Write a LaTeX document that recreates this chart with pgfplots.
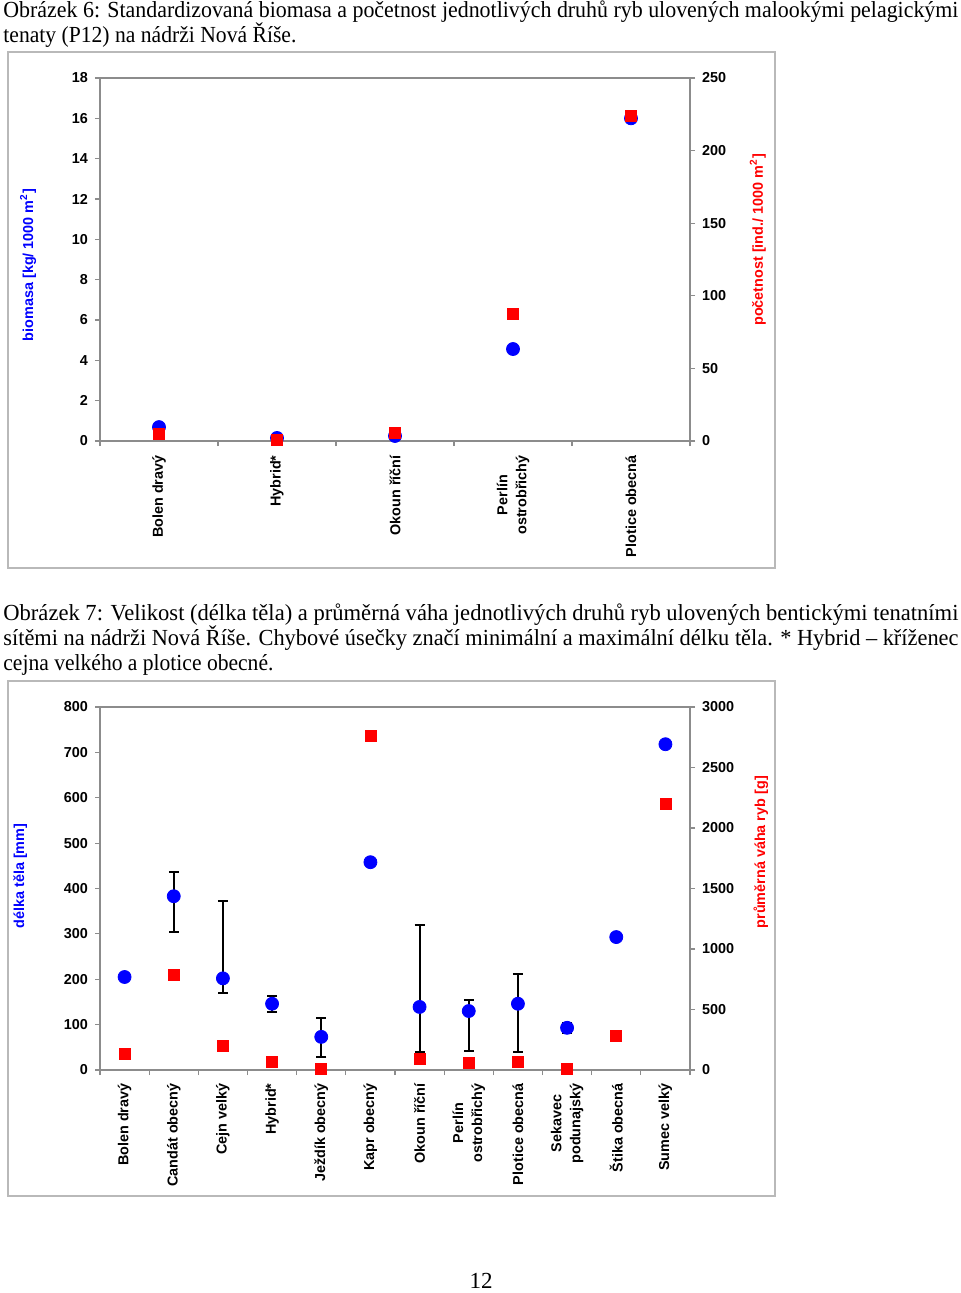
\documentclass[border=0pt]{standalone}
\usepackage{fontspec}
\setmainfont{Liberation Serif}
\newfontfamily\arial{Liberation Sans}
\usepackage{graphicx}
\usepackage{pgfplots}
\usepackage{pgfplotstable}
\pgfplotsset{compat=1.18}

\definecolor{framegray}{RGB}{185,185,185}
\definecolor{axgray}{RGB}{140,140,140}
\definecolor{mblue}{RGB}{0,0,255}
\definecolor{mred}{RGB}{255,0,0}

\newcommand{\lab}{\arial\bfseries\fontsize{7.2}{9.5}\selectfont}
\newcommand{\captxt}{\fontsize{11.5}{13}\selectfont}
\newcommand{\fitw}[2]{\resizebox{#1}{\height}{\captxt #2}}

% biomasa [kg/1000 m2], pocetnost [ind./1000 m2]
\pgfplotstableread{
x bio pocet
1 0.69 4.8
2 0.15 0.8
3 0.25 5.5
4 4.56 87.5
5 16.0 224
}\tabA

% delka tela [mm], prumerna vaha [g]
\pgfplotstableread{
x len w
1 205 132
2 383 788
3 202 198
4 146 69
5 73 11
6 458 2760
7 139 88
8 130 55
9 146 69
10 93 11
11 293 281
12 718 2198
}\tabB

% min/max delka tela
\pgfplotstableread{
x len ep em
2 383 53 79
3 202 171 32
4 146 17 18
5 73 42 44
7 139 180 99
8 130 24 88
9 146 66 106
10 93 11 11
}\tabE

\pgfplotsset{
  excel/.style={
    scale only axis, width=295pt, height=181.5pt, anchor=south west,
    tick align=outside, major tick length=2.5pt,
    axis line style={axgray, line width=0.6pt},
    tick style={axgray, line width=0.6pt},
    ticklabel style={font=\lab, text=black},
    /pgf/number format/assume math mode=true,
    /pgf/number format/1000 sep={},
    clip=false,
  },
}

\begin{document}
\begin{tikzpicture}
\begin{scope}[x=0.5pt,y=-0.5pt]
\useasboundingbox (0,0) rectangle (960,1293);
\fill[white] (0,0) rectangle (960,1293);
\node[anchor=base west, inner sep=0pt] at (3,18) {\fitw{477.5pt}{Obrázek 6: Standardizovaná biomasa a početnost jednotlivých druhů ryb ulovených malookými pelagickými}};
\node[anchor=base west, inner sep=0pt] at (3,43) {\fitw{146.5pt}{tenaty (P12) na nádrži Nová Říše.}};
\node[anchor=base west, inner sep=0pt] at (3,620) {\fitw{477.5pt}{Obrázek 7: Velikost (délka těla) a průměrná váha jednotlivých druhů ryb ulovených bentickými tenatními}};
\node[anchor=base west, inner sep=0pt] at (3,645) {\fitw{477.5pt}{sítěmi na nádrži Nová Říše. Chybové úsečky značí minimální a maximální délku těla. * Hybrid – kříženec}};
\node[anchor=base west, inner sep=0pt] at (3,670) {\fitw{135pt}{cejna velkého a plotice obecné.}};
\node[anchor=base, inner sep=0pt] at (481,1288) {\captxt 12};
\draw[framegray, line width=0.75pt] (8,52) rectangle (775,568);
\draw[framegray, line width=0.75pt] (8,681) rectangle (775,1196);
\end{scope}

% ---------- Obrazek 6 ----------
\begin{axis}[excel, at={(50pt,-220.5pt)},
  xmin=0.5, xmax=5.5, ymin=0, ymax=18, ytick={0,2,...,18},
  xtick={0.5,1.5,...,5.5}, xticklabels={},
  extra x ticks={1,2,3,4,5},
  extra x tick labels={Bolen dravý, Hybrid*, Okoun říční, {Perlín\\ostrobřichý}, Plotice obecná},
  extra x tick style={major tick length=0pt},
  xticklabel style={rotate=90, anchor=east, align=center, inner ysep=0pt, inner xsep=7pt},
  ytick pos=left, xtick pos=bottom,
  ylabel={biomasa  [kg/ 1000 m\textsuperscript{2}]},
  every axis y label/.style={at={(axis description cs:-0.122,0.485)}, rotate=90, anchor=center, font=\lab, text=mblue},
]
\addplot[only marks, mark=*, mark size=3.25pt, color=mblue] table[x=x, y=bio]{\tabA};
\end{axis}
\begin{axis}[excel, at={(50pt,-220.5pt)},
  xmin=0.5, xmax=5.5, ymin=0, ymax=250, ytick={0,50,...,250},
  axis y line*=right, axis x line=none,
  ylabel={početnost [ind./ 1000 m\textsuperscript{2}]},
  every axis y label/.style={at={(axis description cs:1.115,0.554)}, rotate=90, anchor=center, font=\lab, text=mred},
]
\addplot[only marks, mark=square*, mark size=2.75pt, color=mred] table[x=x, y=pocet]{\tabA};
\end{axis}

% ---------- Obrazek 7 ----------
\begin{axis}[excel, at={(50pt,-535pt)},
  xmin=0.5, xmax=12.5, ymin=0, ymax=800, ytick={0,100,...,800},
  xtick={0.5,1.5,...,12.5}, xticklabels={},
  extra x ticks={1,...,12},
  extra x tick labels={Bolen dravý, Candát obecný, Cejn velký, Hybrid*, Ježdík obecný, Kapr obecný, Okoun říční, {Perlín\\ostrobřichý}, Plotice obecná, {Sekavec\\podunajský}, Štika obecná, Sumec velký},
  extra x tick style={major tick length=0pt},
  xticklabel style={rotate=90, anchor=east, align=center, inner ysep=0pt, inner xsep=6.5pt},
  ytick pos=left, xtick pos=bottom,
  ylabel={délka těla [mm]},
  every axis y label/.style={at={(axis description cs:-0.135,0.534)}, rotate=90, anchor=center, font=\lab, text=mblue},
]
\addplot[only marks, mark=none, forget plot,
  error bars/.cd, y dir=both, y explicit,
  error bar style={draw=black, line width=1pt},
  error mark options={rotate=90, draw=black, line width=1pt, mark size=2.5pt}]
  table[x=x, y=len, y error plus=ep, y error minus=em]{\tabE};
\addplot[only marks, mark=*, mark size=3.25pt, color=mblue] table[x=x, y=len]{\tabB};
\end{axis}
\begin{axis}[excel, at={(50pt,-535pt)},
  xmin=0.5, xmax=12.5, ymin=0, ymax=3000, ytick={0,500,...,3000},
  axis y line*=right, axis x line=none,
  ylabel={průměrná váha ryb  [g]},
  every axis y label/.style={at={(axis description cs:1.12,0.6)}, rotate=90, anchor=center, font=\lab, text=mred},
]
\addplot[only marks, mark=square*, mark size=2.75pt, color=mred] table[x=x, y=w]{\tabB};
\end{axis}
\end{tikzpicture}
\end{document}
